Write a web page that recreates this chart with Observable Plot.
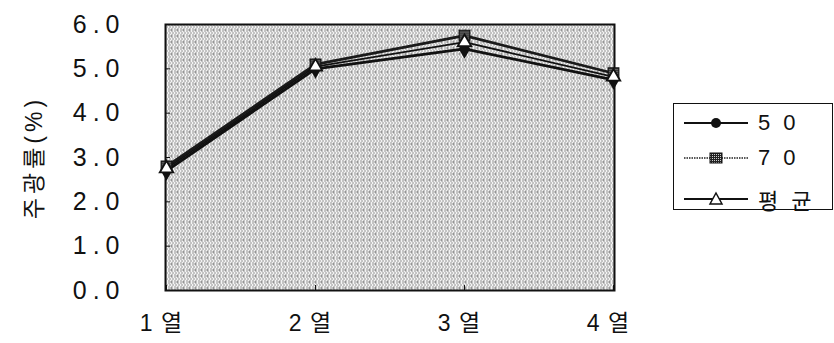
<!DOCTYPE html>
<html>
<head>
<meta charset="utf-8">
<script src="https://cdn.jsdelivr.net/npm/d3@7"></script>
<script src="https://cdn.jsdelivr.net/npm/@observablehq/plot@0.6"></script>
<style>
  body { margin: 0; background: #fff; }
  #wrap { position: relative; width: 834px; height: 343px; font-family: "Liberation Sans", "Noto Sans CJK KR", sans-serif; color: #111; }
  #wrap svg text.ytick { font-size: 25px !important; letter-spacing: 6px; }
  #wrap svg text.xtick { font-size: 23px !important; letter-spacing: 1px; }
  #wrap svg text.ylab { font-size: 23px !important; letter-spacing: 4px; }
  .legend { position: absolute; left: 673px; top: 103px; width: 160px; height: 107px; border: 1.5px solid #111; box-sizing: border-box; background: #fff; }
  .legend .row { position: absolute; left: 0; height: 30px; display: flex; align-items: center; }
  .legend svg { display: block; }
  .legend span { font-size: 22px; letter-spacing: 13px; margin-left: 8px; font-family: "Liberation Sans", "Noto Sans CJK KR", sans-serif; }
</style>
</head>
<body>
<div id="wrap"></div>
<script>
// Columns along the room depth, and daylight factor (%) for each series
const columns = ["1 열", "2 열", "3 열", "4 열"];
const series50 = [2.7, 5.0, 5.45, 4.75];
const series70 = [2.8, 5.1, 5.75, 4.9];
const seriesAvg = [2.75, 5.05, 5.6, 4.82];
const seriesNames = ["50", "70", "평균"];
const yTicks = [0, 1, 2, 3, 4, 5, 6];

const rows = (name, values) => columns.map((c, i) => ({col: c, value: values[i], series: name}));
const d50 = rows(seriesNames[0], series50);
const d70 = rows(seriesNames[1], series70);
const dAvg = rows(seriesNames[2], seriesAvg);

const font = `"Liberation Sans", "Noto Sans CJK KR", sans-serif`;

const svg = Plot.plot({
  width: 834,
  height: 343,
  marginLeft: 165,
  marginRight: 220,
  marginTop: 24,
  marginBottom: 53,
  style: {fontFamily: font, color: "#111", background: "transparent", overflow: "visible"},
  x: {type: "point", domain: columns, padding: 0},
  y: {domain: [0, 6]},
  marks: [
    Plot.frame({fill: "url(#stipple)", stroke: "#111", strokeWidth: 2}),
    // inward tick marks on the frame
    Plot.axisY({ticks: yTicks, tickSize: -5, fill: "none"}),
    Plot.axisX({tickSize: -5, fill: "none"}),
    // tick labels
    Plot.axisY({
      ticks: yTicks, tickSize: 0, tickPadding: 40,
      tickFormat: d => d.toFixed(1),
      label: "주광률(%)", labelAnchor: "center", labelArrow: "none", labelOffset: 140
    }),
    Plot.axisX({tickSize: 0, tickPadding: 24, label: null, dx: -5}),
    Plot.line(d50, {x: "col", y: "value", stroke: "#111", strokeWidth: 2.8}),
    Plot.line(d70, {x: "col", y: "value", stroke: "#1a1a1a", strokeWidth: 2.8}),
    Plot.line(dAvg, {x: "col", y: "value", stroke: "#111", strokeWidth: 1.8}),
    Plot.dot(d50, {x: "col", y: "value", symbol: "diamond", r: 6, fill: "#111"}),
    Plot.dot(d70, {x: "col", y: "value", symbol: "square", r: 6, fill: "url(#hatch)", stroke: "#111", strokeWidth: 1.2}),
    Plot.dot(dAvg, {x: "col", y: "value", symbol: "triangle", r: 5, fill: "#fff", stroke: "#111", strokeWidth: 1.8})
  ]
});

// tag the axis texts so the stylesheet can size and space them
const sel = d3.select(svg);
sel.selectAll("text").each(function() {
  const t = this.textContent;
  if (t === "주광률(%)") this.classList.add("ylab");
  else if (/^\d\.\d$/.test(t)) this.classList.add("ytick");
  else if (columns.includes(t)) this.classList.add("xtick");
});

// stipple fill for the plot background and hatch fill for the square markers
const defs = sel.insert("defs", ":first-child");
const st = defs.append("pattern").attr("id", "stipple").attr("width", 6).attr("height", 6).attr("patternUnits", "userSpaceOnUse");
st.append("rect").attr("width", 6).attr("height", 6).attr("fill", "#f4f4f4");
[[0, 0], [3, 0], [1, 2], [4, 2], [0, 4], [3, 4], [2, 5]].forEach(([x, y]) =>
  st.append("rect").attr("x", x).attr("y", y).attr("width", 1).attr("height", 1).attr("fill", "#333"));
const ht = defs.append("pattern").attr("id", "hatch").attr("width", 2).attr("height", 2).attr("patternUnits", "userSpaceOnUse");
ht.append("rect").attr("width", 2).attr("height", 2).attr("fill", "#222");
ht.append("rect").attr("width", 1).attr("height", 1).attr("fill", "#ccc");

const wrap = document.getElementById("wrap");
wrap.appendChild(svg);

// legend box
const legend = document.createElement("div");
legend.className = "legend";
const sym = [
  `<line x1="0" y1="10" x2="64" y2="10" stroke="#111" stroke-width="2"/><circle cx="32" cy="10" r="5" fill="#111"/>`,
  `<line x1="0" y1="10" x2="64" y2="10" stroke="#222" stroke-width="1.6" stroke-dasharray="1.5,1"/><rect x="26" y="5" width="12" height="10" fill="url(#hatch)" stroke="#111"/>`,
  `<line x1="0" y1="10" x2="64" y2="10" stroke="#111" stroke-width="2"/><polygon points="32,4 38,15 26,15" fill="#fff" stroke="#111" stroke-width="1.5"/>`
];
const tops = [4, 39, 80];
seriesNames.forEach((name, i) => {
  const row = document.createElement("div");
  row.className = "row";
  row.style.top = tops[i] + "px";
  row.style.left = "10px";
  row.innerHTML = `<svg width="66" height="20">${sym[i]}</svg><span>${name}</span>`;
  legend.appendChild(row);
});
wrap.appendChild(legend);
</script>
</body>
</html>
